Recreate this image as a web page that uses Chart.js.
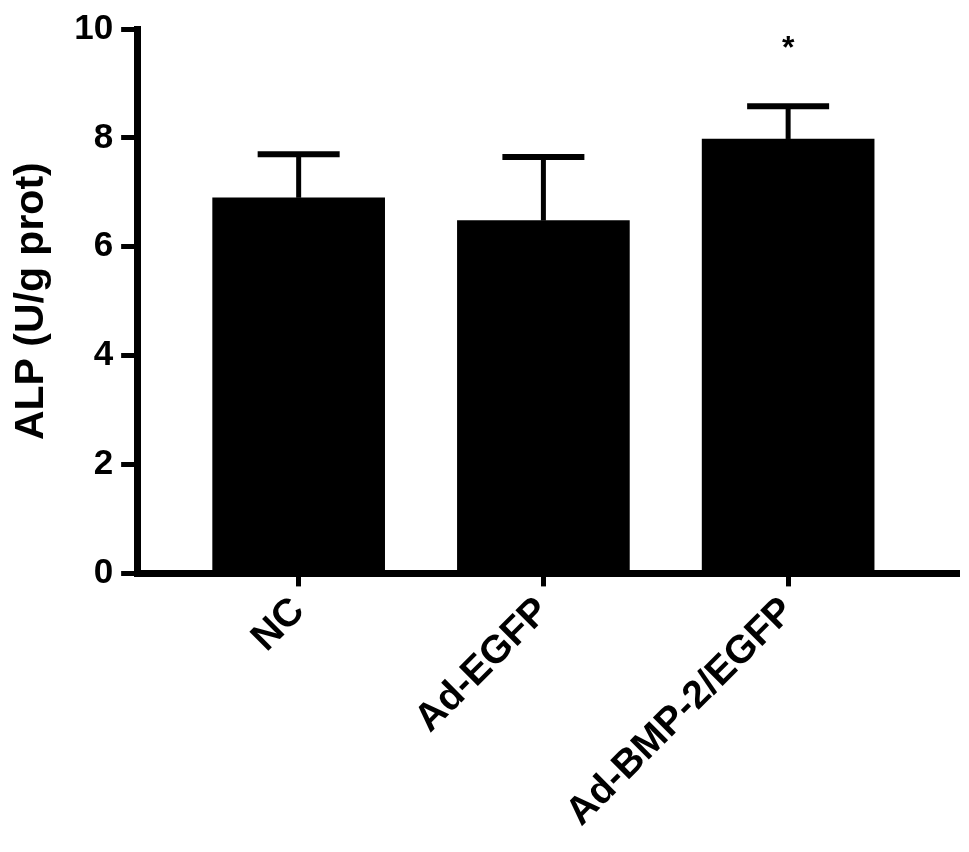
<!DOCTYPE html>
<html>
<head>
<meta charset="utf-8">
<script src="https://cdn.jsdelivr.net/npm/chart.js@4.4.1/dist/chart.umd.min.js"></script>
<style>
  html, body { margin: 0; padding: 0; background: #fff; }
  #wrap { width: 969px; height: 852px; position: relative; }
</style>
</head>
<body>
<div id="wrap"><canvas id="c"></canvas></div>
<script>
// ---- data ----
const categories = ['NC', 'Ad-EGFP', 'Ad-BMP-2/EGFP'];
const means = [6.9, 6.48, 7.98];
const sds = [0.8, 1.17, 0.6];
const significance = ['', '', '*'];
const yTicks = [0, 2, 4, 6, 8, 10];
const yTitle = 'ALP (U/g prot)';

const FONT = '"Liberation Sans", Arial, Helvetica, sans-serif';

const errorBars = {
  id: 'errorBars',
  afterDatasetsDraw(chart) {
    const { ctx, scales: { x, y } } = chart;
    ctx.save();
    ctx.strokeStyle = '#000';
    ctx.fillStyle = '#000';
    means.forEach((m, i) => {
      const px = x.getPixelForValue(i);
      const yb = y.getPixelForValue(m);
      const yt = y.getPixelForValue(m + sds[i]);
      ctx.lineWidth = 5;
      ctx.beginPath();
      ctx.moveTo(px, yb);
      ctx.lineTo(px, yt);
      ctx.stroke();
      ctx.lineWidth = 6;
      ctx.beginPath();
      ctx.moveTo(px - 41, yt);
      ctx.lineTo(px + 41, yt);
      ctx.stroke();
      if (significance[i]) {
        ctx.font = 'bold 32px ' + FONT;
        ctx.textAlign = 'center';
        ctx.textBaseline = 'middle';
        ctx.fillText(significance[i], px, yt - 57);
      }
    });
    ctx.restore();
  }
};

new Chart(document.getElementById('c'), {
  type: 'bar',
  data: {
    datasets: [{
      data: categories.map((c, i) => ({ x: i, y: means[i] })),
      backgroundColor: '#000',
      borderWidth: 0,
      barThickness: 172
    }]
  },
  options: {
    responsive: true,
    maintainAspectRatio: false,
    animation: false,
    layout: { padding: { left: 7, right: 12, top: 23, bottom: 14 } },
    plugins: { legend: { display: false }, tooltip: { enabled: false } },
    scales: {
      x: {
        type: 'linear',
        min: -0.66,
        max: 2.69,
        offset: false,
        afterBuildTicks(axis) { axis.ticks = categories.map((c, i) => ({ value: i })); },
        ticks: {
          callback: (v) => categories[v] ?? '',
          color: '#000',
          font: { family: FONT, size: 39, weight: 'bold' },
          maxRotation: 45,
          minRotation: 45,
          padding: 2,
          autoSkip: false
        },
        grid: { display: true, offset: false, drawOnChartArea: false, drawTicks: true, tickLength: 13, lineWidth: 5, color: '#000' },
        border: { display: true, width: 7, color: '#000' }
      },
      y: {
        min: 0,
        max: 10,
        afterBuildTicks(axis) { axis.ticks = yTicks.map(v => ({ value: v })); },
        ticks: {
          color: '#000',
          font: { family: FONT, size: 35, weight: 'bold' },
          padding: 8
        },
        grid: { display: true, drawOnChartArea: false, drawTicks: true, tickLength: 16, lineWidth: 5, color: '#000' },
        border: { display: true, width: 7, color: '#000' },
        title: {
          display: true,
          text: yTitle,
          color: '#000',
          font: { family: FONT, size: 41, weight: 'bold' },
          padding: { top: 0, bottom: 10 }
        }
      }
    }
  },
  plugins: [errorBars]
});
</script>
</body>
</html>
